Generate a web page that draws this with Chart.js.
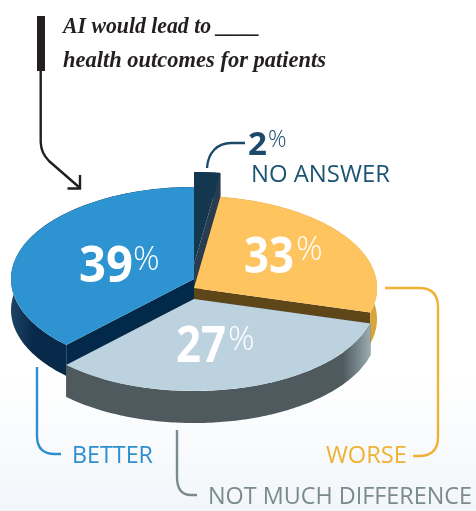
<!DOCTYPE html>
<html>
<head>
<meta charset="utf-8">
<title>AI would lead to ____ health outcomes for patients</title>
<script src="https://cdn.jsdelivr.net/npm/chart.js@4"></script>
<style>
  html, body { margin: 0; padding: 0; }
  body {
    width: 476px;
    height: 511px;
    overflow: hidden;
    background: linear-gradient(to bottom, #ffffff 0, #ffffff 375px, #f2f6fa 511px);
  }
  canvas { display: block; }
</style>
</head>
<body>
<canvas id="pie" width="476" height="511"></canvas>
<script>
// Chart data, clockwise from 12 o'clock
const categories = ["NO ANSWER", "WORSE", "NOT MUCH DIFFERENCE", "BETTER"];
const printedValues = [2, 33, 27, 39];
// The reference does not cut its slices to the printed numbers: yellow covers
// about 27% of the circle and grey about 33%. These are the measured shares.
const sliceShares = [2.3, 27, 33, 37.7];
const titleLines = ["AI would lead to ____", "health outcomes for patients"];

const sliceColors = ["#12374f", "#fec45f", "#bcd2de", "#2e94d1"];

// ---------- 3D look ----------
const SQUASH = 0.503;
const CENTER_X = 194;
const faces = [
  { cy: 264, depth: 25, cut: "#2a3d50", rim: [[0, "#2a3d50"], [1, "#2a3d50"]] },
  { cy: 288, depth: 31, cut: "#5e4619", rim: [[0, "#d9a53a"], [1, "#d9a53a"]] },
  { cy: 299, depth: 32, cut: "#4f5a5e", rim: [[0, "#4f5a5e"], [0.91, "#4f5a5e"], [1, "#9aacb2"]] },
  { cy: 279, depth: 31, cut: "#03294a", rim: [[0, "#1f4464"], [0.12, "#08294a"], [1, "#03294a"]] }
];
const drawOrder = [0, 3, 1, 2];

function paintSides(ctx, arc, face) {
  const R = arc.outerRadius;
  const px = (t) => CENTER_X + R * Math.cos(t);
  const py = (t, d) => face.cy + d + R * SQUASH * Math.sin(t);

  // flat cut faces
  [arc.startAngle, arc.endAngle].forEach((t) => {
    ctx.beginPath();
    ctx.moveTo(CENTER_X, face.cy);
    ctx.lineTo(px(t), py(t, 0));
    ctx.lineTo(px(t), py(t, face.depth));
    ctx.lineTo(CENTER_X, face.cy + face.depth);
    ctx.closePath();
    ctx.fillStyle = face.cut;
    ctx.fill();
  });

  // curved outer wall
  const steps = 120;
  const span = arc.endAngle - arc.startAngle;
  let minX = Infinity, maxX = -Infinity;
  ctx.beginPath();
  for (let i = 0; i <= steps; i++) {
    const t = arc.startAngle + (span * i) / steps;
    const x = px(t);
    minX = Math.min(minX, x);
    maxX = Math.max(maxX, x);
    if (i === 0) ctx.moveTo(x, py(t, 0));
    else ctx.lineTo(x, py(t, 0));
  }
  for (let i = steps; i >= 0; i--) {
    const t = arc.startAngle + (span * i) / steps;
    ctx.lineTo(px(t), py(t, face.depth));
  }
  ctx.closePath();
  const grad = ctx.createLinearGradient(minX, 0, maxX, 0);
  face.rim.forEach((s) => grad.addColorStop(s[0], s[1]));
  ctx.fillStyle = grad;
  ctx.fill();
}

const pie3d = {
  id: "pie3d",
  beforeDatasetDraw(chart) {
    const ctx = chart.ctx;
    const arcs = chart.getDatasetMeta(0).data;
    drawOrder.forEach((i) => {
      const arc = arcs[i];
      const face = faces[i];
      paintSides(ctx, arc, face);
      // top surface is the library's own arc, flattened
      ctx.save();
      ctx.translate(CENTER_X, face.cy);
      ctx.scale(1, SQUASH);
      ctx.translate(-arc.x, -arc.y);
      arc.draw(ctx);
      ctx.restore();
    });
    return false;
  }
};

// ---------- Annotations ----------
function strokePath(ctx, color, width, build) {
  ctx.beginPath();
  build(ctx);
  ctx.strokeStyle = color;
  ctx.lineWidth = width;
  ctx.lineCap = "butt";
  ctx.lineJoin = "miter";
  ctx.stroke();
}

function text(ctx, str, x, y, font, color, width) {
  ctx.font = font;
  ctx.fillStyle = color;
  ctx.textAlign = "left";
  ctx.textBaseline = "alphabetic";
  if (width) ctx.fillText(str, x, y, width);
  else ctx.fillText(str, x, y);
}

const annotations = {
  id: "annotations",
  afterDraw(chart) {
    const ctx = chart.ctx;
    ctx.save();

    // title with its marker bar and arrow
    ctx.fillStyle = "#231f20";
    ctx.fillRect(37, 16, 8, 55);
    strokePath(ctx, "#231f20", 2.4, (c) => {
      c.moveTo(40.7, 71);
      c.lineTo(40.7, 142);
      c.quadraticCurveTo(41, 153, 49, 161);
      c.lineTo(80, 188);
    });
    strokePath(ctx, "#231f20", 2.4, (c) => {
      c.moveTo(80, 175);
      c.lineTo(80, 188.5);
      c.lineTo(67.5, 188.5);
    });
    const titleFont = 'italic bold 22.5px "Liberation Serif"';
    text(ctx, titleLines[0], 63, 33, titleFont, "#231f20", 197);
    text(ctx, titleLines[1], 63, 67, titleFont, "#231f20", 263);

    // leader lines
    strokePath(ctx, "#1b4a6b", 2.4, (c) => {
      c.moveTo(207, 168);
      c.bezierCurveTo(208, 152, 218, 143, 231, 143);
      c.lineTo(245, 143);
    });
    strokePath(ctx, "#f0b232", 2.4, (c) => {
      c.moveTo(385, 288);
      c.lineTo(419, 288);
      c.quadraticCurveTo(438, 288, 438, 307);
      c.lineTo(438, 437);
      c.quadraticCurveTo(438, 456, 419, 456);
      c.lineTo(413, 456);
    });
    strokePath(ctx, "#2e8fd0", 2.4, (c) => {
      c.moveTo(37, 367);
      c.lineTo(37, 436);
      c.quadraticCurveTo(37, 454, 55, 454);
      c.lineTo(61, 454);
    });
    strokePath(ctx, "#7a8a91", 2.4, (c) => {
      c.moveTo(177, 430);
      c.lineTo(177, 477);
      c.quadraticCurveTo(177, 495, 191, 495);
      c.lineTo(197, 495);
    });

    // percentages on the slices
    const bigFont = '700 50px "Open Sans"';
    const pctFont = '300 33px "Open Sans"';
    text(ctx, String(printedValues[3]), 79, 282, bigFont, "#ffffff", 54);
    text(ctx, "%", 133, 270, pctFont, "#ffffff");
    text(ctx, String(printedValues[1]), 244, 273, bigFont, "#ffffff", 50);
    text(ctx, "%", 296, 260, pctFont, "#ffffff");
    text(ctx, String(printedValues[2]), 176, 362, bigFont, "#ffffff", 50);
    text(ctx, "%", 228, 350, pctFont, "#ffffff");

    // no answer callout
    text(ctx, String(printedValues[0]), 248, 155, '700 33px "Open Sans"', "#1b4a6b");
    text(ctx, "%", 268, 147, '300 23px "Open Sans"', "#1b4a6b");
    const labelFont = '400 24px "Open Sans"';
    text(ctx, categories[0], 251, 182, labelFont, "#1b5572", 139);
    text(ctx, categories[3], 72, 463, labelFont, "#2e8fd0", 81);
    text(ctx, categories[1], 326, 463, labelFont, "#f0b232", 81);
    text(ctx, categories[2], 208, 504, labelFont, "#7a8a91", 264);

    ctx.restore();
  }
};

new Chart(document.getElementById("pie"), {
  type: "pie",
  data: {
    labels: categories,
    datasets: [{
      data: sliceShares,
      backgroundColor: sliceColors,
      borderWidth: 0,
      hoverOffset: 0
    }]
  },
  options: {
    responsive: false,
    animation: false,
    layout: { padding: { left: 11, right: 99, top: 72, bottom: 73 } },
    plugins: {
      legend: { display: false },
      title: { display: false },
      tooltip: {
        callbacks: {
          label: (item) => ` ${printedValues[item.dataIndex]}%`
        }
      }
    }
  },
  plugins: [pie3d, annotations]
});
</script>
</body>
</html>
